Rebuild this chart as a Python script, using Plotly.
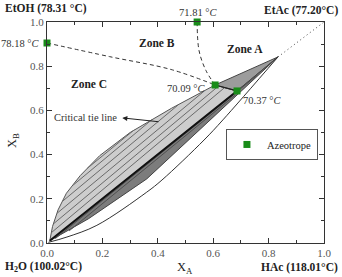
import plotly.graph_objects as go

# ---------------- data ----------------
# upper boundary of the light (hatched) region, from H2O corner to 70.09 azeotrope
upper_x = [0.01, 0.02, 0.04, 0.07, 0.12, 0.19, 0.30, 0.45, 0.607]
upper_y = [0.01, 0.075, 0.15, 0.225, 0.305, 0.395, 0.50, 0.61, 0.715]
# thick black (critical) line from corner to 70.37 azeotrope
crit_x = [0.01, 0.686]
crit_y = [0.01, 0.688]
# lower edge of dark band, from corner to tip
dark_low_x = [0.01, 0.15, 0.36, 0.66, 0.834]
dark_low_y = [0.01, 0.11, 0.29, 0.64, 0.842]
# tip of the two-phase region
tip_x, tip_y = 0.834, 0.842
# thin lower boundary curve
low_x = [0.005, 0.072, 0.18, 0.36, 0.415, 0.567, 0.635, 0.834]
low_y = [0.003, 0.027, 0.08, 0.23, 0.285, 0.466, 0.557, 0.842]
# hatch tie lines in the light region (x0, y0, x1, y1)
tie_light = [
    (0.016, 0.047, 0.641, 0.703),
    (0.0245, 0.088, 0.620, 0.711),
    (0.0367, 0.135, 0.568, 0.688),
    (0.0571, 0.190, 0.4736, 0.625),
    (0.0945, 0.262, 0.3785, 0.558),
    (0.1455, 0.338, 0.315, 0.512),
]
tie_dark = [
    (0.03, 0.02, 0.76, 0.76),
    (0.08, 0.055, 0.68, 0.67),
]
# distillation boundaries
bnd1_x = [0.0, 0.227, 0.448, 0.607]
bnd1_y = [0.905, 0.843, 0.785, 0.715]
bnd2_x = [0.542, 0.549, 0.574, 0.607]
bnd2_y = [1.0, 0.87, 0.78, 0.715]
dot_x = [0.834, 1.0]
dot_y = [0.842, 1.0]
# azeotropes
az_x = [0.0, 0.542, 0.607, 0.686]
az_y = [0.905, 1.0, 0.715, 0.688]
az_labels = ["78.18 °<i>C</i>", "71.81 °<i>C</i>", "70.09 °<i>C</i>", "70.37 °<i>C</i>"]

SERIF = "Liberation Serif"
fig = go.Figure()

# light region: upper curve -> 70.09 -> 70.37 -> back along critical line
lx = upper_x + [az_x[3]] + [crit_x[0]]
ly = upper_y + [az_y[3]] + [crit_y[0]]
fig.add_trace(go.Scatter(x=lx, y=ly, fill="toself", fillcolor="#cdcdcd",
                         mode="lines", line=dict(color="#555", width=1),
                         showlegend=False, hoverinfo="skip"))
# medium region: 70.09 -> tip -> 70.37
fig.add_trace(go.Scatter(x=[az_x[2], tip_x, az_x[3], az_x[2]],
                         y=[az_y[2], tip_y, az_y[3], az_y[2]],
                         fill="toself", fillcolor="#9c9c9c",
                         mode="lines", line=dict(color="#444", width=1),
                         showlegend=False, hoverinfo="skip"))
# dark band
dx = crit_x + [tip_x] + dark_low_x[::-1]
dy = crit_y + [tip_y] + dark_low_y[::-1]
fig.add_trace(go.Scatter(x=dx, y=dy, fill="toself", fillcolor="#7c7c7c",
                         mode="lines", line=dict(color="#444", width=1),
                         showlegend=False, hoverinfo="skip"))
# hatch lines
for (x0, y0, x1, y1) in tie_light:
    fig.add_trace(go.Scatter(x=[x0, x1], y=[y0, y1], mode="lines",
                             line=dict(color="#6a6a6a", width=1),
                             showlegend=False, hoverinfo="skip"))
for (x0, y0, x1, y1) in tie_dark:
    fig.add_trace(go.Scatter(x=[x0, x1], y=[y0, y1], mode="lines",
                             line=dict(color="#505050", width=1),
                             showlegend=False, hoverinfo="skip"))
# critical line (thick black)
fig.add_trace(go.Scatter(x=crit_x, y=crit_y, mode="lines",
                         line=dict(color="#111", width=2),
                         showlegend=False, hoverinfo="skip"))
# 70.09 - 70.37 line
fig.add_trace(go.Scatter(x=[az_x[2], az_x[3]], y=[az_y[2], az_y[3]], mode="lines",
                         line=dict(color="#222", width=1.2),
                         showlegend=False, hoverinfo="skip"))
# lower thin curve
fig.add_trace(go.Scatter(x=low_x, y=low_y, mode="lines", line_shape="spline",
                         line=dict(color="#333", width=1),
                         showlegend=False, hoverinfo="skip"))
# boundaries
fig.add_trace(go.Scatter(x=bnd1_x, y=bnd1_y, mode="lines", line_shape="spline",
                         line=dict(color="#333", width=1, dash="4px,3px"),
                         showlegend=False, hoverinfo="skip"))
fig.add_trace(go.Scatter(x=bnd2_x, y=bnd2_y, mode="lines", line_shape="spline",
                         line=dict(color="#333", width=1, dash="4px,3px"),
                         showlegend=False, hoverinfo="skip"))
fig.add_trace(go.Scatter(x=dot_x, y=dot_y, mode="lines",
                         line=dict(color="#444", width=1, dash="1px,3px"),
                         showlegend=False, hoverinfo="skip"))
# azeotropes
fig.add_trace(go.Scatter(x=az_x, y=az_y, mode="markers", name="Azeotrope",
                         marker=dict(symbol="square", size=7, color="#198c19"),
                         cliponaxis=False, hoverinfo="skip"))

ann = []
def A(text, x, y, xref="x", yref="y", size=10.5, bold=False, xanchor="center",
      yanchor="middle", textangle=0, color="#222"):
    t = f"<b>{text}</b>" if bold else text
    ann.append(dict(text=t, x=x, y=y, xref=xref, yref=yref, showarrow=False,
                    xanchor=xanchor, yanchor=yanchor, textangle=textangle,
                    font=dict(family=SERIF, size=size, color=color)))

A("EtOH (78.31 °C)", -0.159, 1.063, "paper", "paper", 11.5, True, "left")
A("EtAc (77.20°C)", 1.058, 1.054, "paper", "paper", 11.5, True, "right")
A("H<sub>2</sub>O (100.02°C)", -0.159, -0.109, "paper", "paper", 11.5, True, "left")
A("HAc (118.01°C)", 1.058, -0.113, "paper", "paper", 11.5, True, "right")
A("X<sub>A</sub>", 0.498, -0.113, "paper", "paper", 12.5, False)
A("X<sub>B</sub>", -0.123, 0.466, "paper", "paper", 12.5, False, textangle=-90)
A("Zone B", 0.397, 0.905, size=11.5, bold=True)
A("Zone A", 0.715, 0.878, size=11.5, bold=True)
A("Zone C", 0.152, 0.719, size=11.5, bold=True)
A(az_labels[0], -0.02, az_y[0], "paper", "y", 10.5, False, "right", color="#333")
A(az_labels[1], 0.545, 1.045, "x", "paper", 10.5, False, color="#333")
A(az_labels[2], 0.50, 0.697, size=10.5, color="#333")
A(az_labels[3], 0.776, 0.647, size=10.5, color="#333")
A("Critical tie line", 0.14, 0.566, size=10.5, color="#333")
ann.append(dict(text="", x=0.272, y=0.566, ax=0.408, ay=0.548, xref="x", yref="y",
                axref="x", ayref="y", showarrow=True, arrowhead=2, arrowsize=1,
                arrowwidth=1, arrowcolor="#222"))

axis_common = dict(range=[0, 1], showgrid=False, zeroline=False, showline=True,
                   linecolor="#333", linewidth=1, mirror="ticks", ticks="inside",
                   ticklen=5, tickcolor="#333", dtick=0.2, tickformat=".1f",
                   tickfont=dict(family=SERIF, size=11, color="#555"),
                   minor=dict(ticks="inside", ticklen=3, dtick=0.1, tickcolor="#333"))
fig.update_layout(
    width=342, height=277, margin=dict(l=47, r=18, t=22, b=34),
    plot_bgcolor="white", paper_bgcolor="white",
    font=dict(family=SERIF),
    xaxis=axis_common, yaxis=axis_common,
    annotations=ann,
    legend=dict(x=0.646, y=0.516, xanchor="left", yanchor="top",
                bordercolor="#555", borderwidth=1, bgcolor="white",
                font=dict(family=SERIF, size=10.5, color="#222"),
                itemwidth=30, tracegroupgap=0),
)
fig.write_html("out.html")
